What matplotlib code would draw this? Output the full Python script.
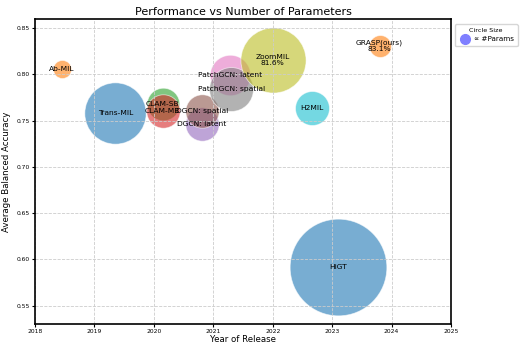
import matplotlib.pyplot as plt
import numpy as np

# models, release year, balanced accuracy, marker size (pt^2)
models = ['Trans-MIL', 'Ab-MIL', 'CLAM-SB', 'CLAM-MB', 'DGCN: latent',
          'DGCN: spatial', 'PatchGCN: latent', 'PatchGCN: spatial',
          'ZoomMIL', 'H2MIL', 'HiGT', 'GRASP(ours)']
years = [2019.35, 2018.45, 2020.15, 2020.15, 2020.81, 2020.81,
         2021.28, 2021.30, 2022.0, 2022.66, 2023.1, 2023.8]
accuracy = [0.758, 0.806, 0.768, 0.761, 0.746, 0.761,
            0.799, 0.784, 0.816, 0.764, 0.592, 0.831]
sizes = [1950, 170, 550, 580, 580, 580, 850, 1000, 2200, 600, 4850, 250]
labels = ['Trans-MIL', 'Ab-MIL', 'CLAM-SB', 'CLAM-MB', 'DGCN: latent',
          'DGCN: spatial', 'PatchGCN: latent', 'PatchGCN: spatial',
          'ZoomMIL\n81.6%', 'H2MIL', 'HiGT', 'GRASP(ours)\n83.1%']

colors = plt.cm.tab10(np.arange(len(models)) % 10)

fig = plt.figure(figsize=(5.21, 3.45), dpi=100)
ax = fig.add_axes([0.0672, 0.0609, 0.7984, 0.884])

for i in range(len(models)):
    ax.scatter(years[i], accuracy[i], s=sizes[i], color=colors[i],
               alpha=0.6, edgecolors='white', linewidths=0.6)
    ax.text(years[i], accuracy[i], labels[i], fontsize=5.4,
            ha='center', va='center', linespacing=1.0)

ax.set_xlim(2018, 2025)
ax.set_ylim(0.53, 0.86)
ax.set_xticks(range(2018, 2026))
ax.set_yticks([0.55, 0.60, 0.65, 0.70, 0.75, 0.80, 0.85])
ax.tick_params(labelsize=4.3, length=2, pad=1.5)
ax.grid(True, linestyle='--', color='#cccccc', linewidth=0.6)
for s in ax.spines.values():
    s.set_linewidth(1.2)

ax.set_title('Performance vs Number of Parameters', fontsize=8, pad=3)
ax.set_xlabel('Year of Release', fontsize=6.2, labelpad=0.5)
ax.set_ylabel('Average Balanced Accuracy', fontsize=6.2, labelpad=4)

handle = plt.Line2D([], [], marker='o', linestyle='', markersize=7,
                    markerfacecolor='#7f7fff', markeredgecolor='#7f7fff')
ax.legend([handle], ['\u221d #Params'], title='Circle Size', fontsize=5.2,
          title_fontsize=4.6, loc='upper left', bbox_to_anchor=(1.0, 0.995),
          handletextpad=0.2, borderpad=0.5)

fig.savefig('out.png', dpi=100)
